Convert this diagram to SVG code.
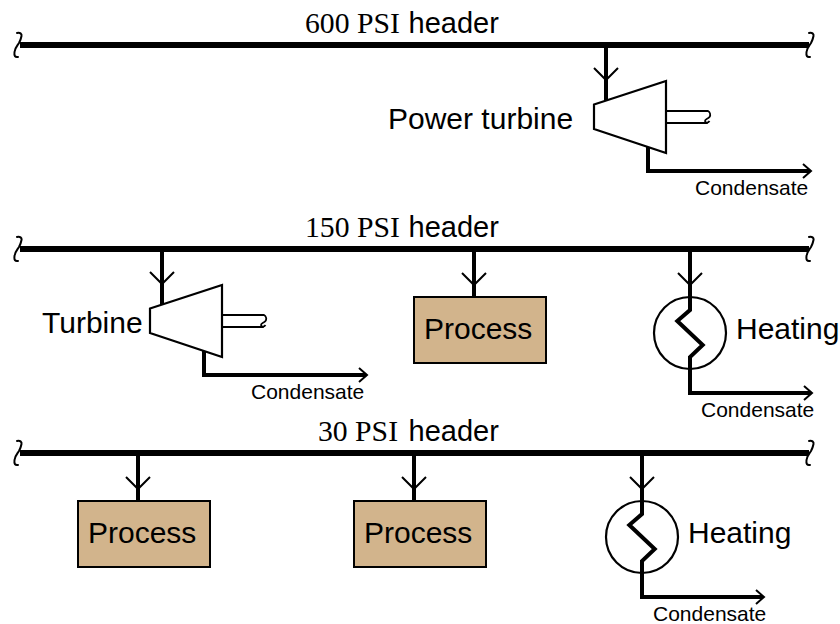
<svg xmlns="http://www.w3.org/2000/svg" width="840" height="624" viewBox="0 0 840 624">
<style>
text{fill:#000;font-family:"Liberation Sans",Arial,sans-serif}
.h{font-size:29px}
.s{font-family:"Liberation Serif","Times New Roman",serif;font-size:29.700px}
.l{font-size:30px}
.c{font-size:21px}
.hd{stroke:#000;stroke-width:6;fill:none}
.p{stroke:#000;stroke-width:4;fill:none}
.t{stroke:#000;stroke-width:1.800;fill:none}
.a{stroke:#000;stroke-width:2;fill:none}
.q{stroke:#000;stroke-width:2;fill:none;stroke-linecap:round}
.b{fill:#d2b48c;stroke:#000;stroke-width:2}
.w{fill:#fff;stroke:#000;stroke-width:2.200;stroke-linejoin:miter}
</style>
<defs>
<path id="sq" class="q" d="M-2,-12C1,-13 3,-11 2.500,-9C2,-6 1,-4 0,-2C-2,1 -4,3 -4.500,7C-5,11 -4,12.500 -1,12"/>
<g id="chev"><path class="a" d="M-12,-12L0,0L12,-12"/></g>
<g id="turb">
<path class="w" d="M0,23.500L72,0V72L0,48Z"/>
<path class="t" d="M72,30H114C116,31 117,34 115.500,36C114,38 111,38 111,40C111,42 114,42.500 115.500,40M72,42H114"/>
</g>
<g id="hx">
<circle class="w" cx="0" cy="0" r="36"/>
<path class="p" d="M0,-36V-23L-12.700,-12L12.700,12L0,24V36"/>
</g>
</defs>
<g id="connectors">
<path class="hd" d="M20,45H809M20,249H809M20,453H809"/>
<use href="#sq" x="19" y="45"/><use href="#sq" x="811" y="45"/>
<use href="#sq" x="19" y="249"/><use href="#sq" x="811" y="249"/>
<use href="#sq" x="19" y="453"/><use href="#sq" x="811" y="453"/>
<path class="p" d="M606,45V102"/><use href="#chev" x="606" y="80"/>
<path class="p" d="M648,146V171H810"/><path class="a" d="M803,164L811,171L803,178"/>
<path class="p" d="M162,249V306"/><use href="#chev" x="162" y="284"/>
<path class="p" d="M204,350V375H366"/><path class="a" d="M359,368L367,375L359,382"/>
<path class="p" d="M474,249V297"/><use href="#chev" x="474" y="285"/>
<path class="p" d="M690,249V297"/><use href="#chev" x="690" y="285"/>
<path class="p" d="M690,368V393H811"/><path class="a" d="M804,386L812,393L804,400"/>
<path class="p" d="M138,453V501"/><use href="#chev" x="138" y="489"/>
<path class="p" d="M414,453V501"/><use href="#chev" x="414" y="489"/>
<path class="p" d="M642,453V501"/><use href="#chev" x="642" y="489"/>
<path class="p" d="M642,572V597H763"/><path class="a" d="M756,590L764,597L756,604"/>
</g>
<g id="header600"><text class="h" x="305" y="33"><tspan class="s">600 PSI </tspan><tspan x="408.500">header</tspan></text></g>
<g id="header150"><text class="h" x="305" y="237"><tspan class="s">150 PSI </tspan><tspan x="408.500">header</tspan></text></g>
<g id="header30"><text class="h" x="318" y="441"><tspan class="s">30 PSI </tspan><tspan x="408.500">header</tspan></text></g>
<g id="power-turbine"><use href="#turb" x="594" y="81"/><text class="l" x="388" y="129">Power turbine</text><text class="c" x="695" y="195">Condensate</text></g>
<g id="turbine"><use href="#turb" x="150" y="285"/><text class="l" x="42" y="333">Turbine</text><text class="c" x="251" y="399">Condensate</text></g>
<g id="process1"><rect class="b" x="414" y="297" width="132" height="66"/><text class="l" x="424" y="339">Process</text></g>
<g id="heating1"><use href="#hx" x="690" y="333"/><text class="l" x="736" y="339">Heating</text><text class="c" x="701" y="417">Condensate</text></g>
<g id="process2"><rect class="b" x="78" y="501" width="132" height="66"/><text class="l" x="88" y="543">Process</text></g>
<g id="process3"><rect class="b" x="354" y="501" width="132" height="66"/><text class="l" x="364" y="543">Process</text></g>
<g id="heating2"><use href="#hx" x="642" y="537"/><text class="l" x="688" y="543">Heating</text><text class="c" x="653" y="621">Condensate</text></g>
</svg>
